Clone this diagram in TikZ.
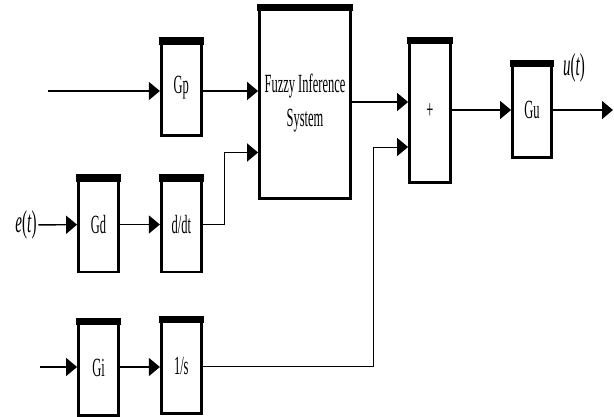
\documentclass[tikz,border=0pt]{standalone}
\usepackage{fontspec}
\setmainfont{Liberation Serif}
\usetikzlibrary{arrows.meta, calc, positioning}
\newcommand{\tall}[1]{\scalebox{1}[2.1]{#1}}

\begin{document}
\begin{tikzpicture}[x=1pt, y=-1pt, >={Triangle[length=11pt,width=18pt]}, line width=1.4pt,
    blk/.style={draw, line width=2.8pt, inner sep=0pt, minimum width=40pt, minimum height=95pt,
      font=\fontsize{12.5}{16.5}\selectfont},
    sig/.style={inner sep=1pt, font=\fontsize{15}{17}\selectfont}]
        \useasboundingbox (0,0) rectangle (614,416);
        \node[blk] (gd) at (98.5,224.5) {\tall{Gd}};
        \node[blk, right=40pt of gd] (dt) {\tall{d/dt}};
        \node[blk, above=39pt of dt] (gp) {\tall{Gp}};
        \node[blk, below=46pt of gd] (gi) {\tall{Gi}};
        \node[blk, right=40pt of gi, yshift=2pt] (is) {\tall{1/s}};
        \node[blk, minimum width=91pt, minimum height=192pt] (fis) at (305,102.5)
            {\tall{\begin{tabular}{@{}c@{}}Fuzzy Inference\\System\end{tabular}}};
        \node[blk, minimum width=41pt, minimum height=143pt] (sum) at (430,111) {\tall{+}};
        \node[blk, minimum width=39pt] (gu) at (532,110) {\tall{Gu}};
        % thick top bars
        \foreach \b in {gp,fis,sum,gu,gd,dt,gi,is}
            \fill ([xshift=-1.4pt,yshift=1.4pt]\b.north west) rectangle ([xshift=1.4pt,yshift=-6pt]\b.north east);
        \node[sig] (et) at (26,225) {\tall{\textit{e}(\textit{t})}};
        \node[sig] (ut) at (574,68) {\tall{\textit{u}(\textit{t})}};
        \coordinate (pin) at (48,91);
        \coordinate (iin) at (40,367);
        \coordinate (out) at (613,110);
        \draw[->] (pin) -- (pin -| gp.west);
        \draw[->] (gp.east |- pin) -- (pin -| fis.west);
        \draw[->] (et) -- (gd);
        \draw[->] (gd) -- (dt);
        \draw[->] (dt.east) -- ++(22,0) |- ($(fis.west)+(0,50)$);
        \draw[->] (iin) -- (iin -| gi.west);
        \draw[->] (gi.east |- iin) -- (iin -| is.west);
        \draw[->] (fis.east |- 0,102) -- (sum.west |- 0,102);
        \draw[->, line width=1pt] (is.east) -| (373,147) -- (sum.west |- 0,147);
        \draw[->] (sum.east |- gu) -- (gu);
        \draw[->] (gu) -- (out);
    \end{tikzpicture}
\end{document}
